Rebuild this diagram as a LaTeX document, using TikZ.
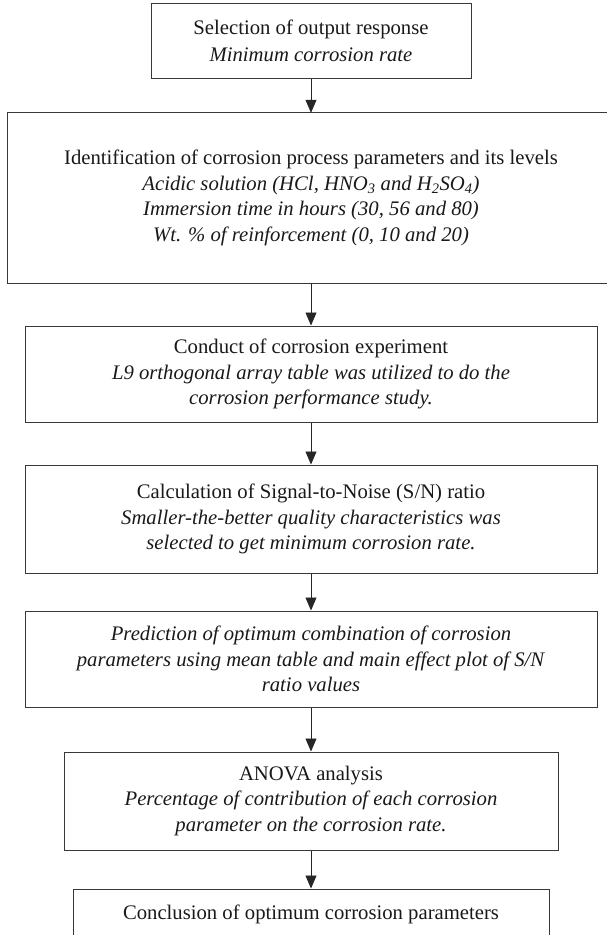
\documentclass[tikz,border=0pt]{standalone}
\usepackage{fontspec}
\setmainfont{Liberation Serif}
\usetikzlibrary{arrows.meta}
\begin{document}
\begin{tikzpicture}[x=1pt,y=-1pt,
  boxline/.style={draw=black!78, line width=1pt},
  box/.style={boxline, inner sep=0pt, align=center,
    font=\fontsize{20.7}{25.5}\selectfont, text=black!90},
  plain/.style={inner sep=0pt, align=center,
    font=\fontsize{20.7}{25.5}\selectfont, text=black!90},
  arr/.style={-{Triangle[length=13pt,width=11pt]}, line width=0.8pt, draw=black!85}]
\useasboundingbox (0,0) rectangle (606,935);
\node[box, minimum width=320pt, minimum height=75pt] (b1) at (311,40.5)
  {Selection of output response\\[1.5pt] \textit{Minimum corrosion rate}};
\node[plain, minimum width=606pt, minimum height=170pt] (b2) at (311,198)
  {Identification of corrosion process parameters and its levels\\
   \textit{Acidic solution (HCl, HNO\textsubscript{3} and H\textsubscript{2}SO\textsubscript{4})}\\
   \textit{Immersion time in hours (30, 56 and 80)}\\
   \textit{Wt. \% of reinforcement (0, 10 and 20)}};
\draw[boxline] (b2.north east) ++(40,0) -| (b2.south west) -- ++(660,0);
\node[box, minimum width=572pt, minimum height=96pt] (b3) at (311,374)
  {Conduct of corrosion experiment\\
   \textit{L9 orthogonal array table was utilized to do the}\\
   \textit{corrosion performance study.}};
\node[box, minimum width=572pt, minimum height=108pt] (b4) at (311,519)
  {Calculation of Signal-to-Noise (S/N) ratio\\
   \textit{Smaller-the-better quality characteristics was}\\
   \textit{selected to get minimum corrosion rate.}};
\node[box, minimum width=572pt, minimum height=96pt] (b5) at (311,659)
  {\textit{Prediction of optimum combination of corrosion}\\
   \textit{parameters using mean table and main effect plot of S/N}\\
   \textit{ratio values}};
\node[box, minimum width=494pt, minimum height=98pt] (b6) at (311,801)
  {ANOVA analysis\\
   \textit{Percentage of contribution of each corrosion}\\
   \textit{parameter on the corrosion rate.}};
\node[box, minimum width=476pt, minimum height=50pt] (b7) at (311,914)
  {Conclusion of optimum corrosion parameters};
\draw[arr] (b1) -- (b2);
\draw[arr] (b2) -- (b3);
\draw[arr] (b3) -- (b4);
\draw[arr] (b4) -- (b5);
\draw[arr] (b5) -- (b6);
\draw[arr] (b6) -- (b7);
\end{tikzpicture}
\end{document}
